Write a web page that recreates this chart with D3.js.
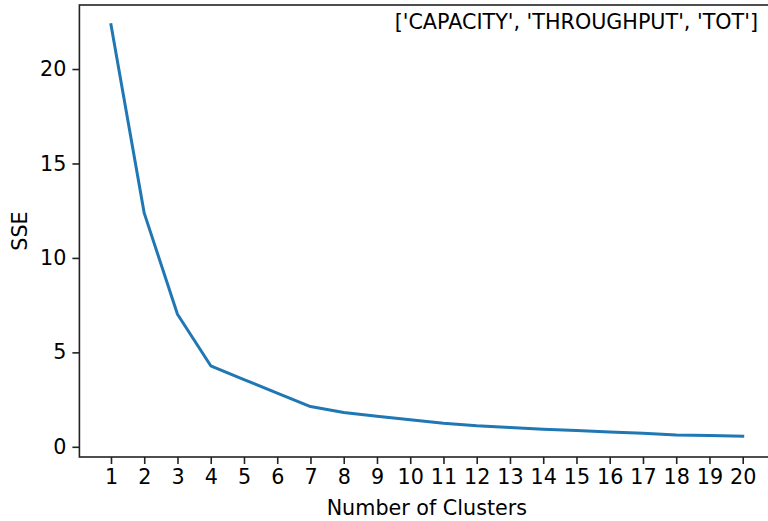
<!DOCTYPE html>
<html>
  <head>
    <meta http-equiv="Content-Type" content="text/html;charset=utf-8"/>
    <script src="https://d3js.org/d3.v7.min.js"></script>
    <style>
      body { margin: 0; background: #fff; }
      text { font-family: "DejaVu Sans", sans-serif; fill: #000; }
    </style>
  </head>
  <body>
    <script type="text/javascript">

// values
var clusters = d3.range(1, 21);
var sse = [22.35, 12.37, 7.02, 4.29, 3.56, 2.84, 2.13, 1.82, 1.62, 1.43,
           1.25, 1.11, 1.02, 0.93, 0.86, 0.78, 0.72, 0.63, 0.60, 0.56];
var yTicks = [0, 5, 10, 15, 20];
var note = "['CAPACITY', 'THROUGHPUT', 'TOT']";

var w = 768, h = 521, fs = "20.7px";
var pl = 79.4, pr = 774.3, pt = 5, pb = 457;

var svg = d3.select("body").append("svg")
  .attr("width", w)
  .attr("height", h);

var x = d3.scaleLinear().domain([0.05, 20.95]).range([pl, pr]);
var y = d3.scaleLinear().domain([-0.54, 23.39]).range([pb, pt]);

var xAxis = d3.axisBottom(x).tickValues(clusters).tickSize(7).tickPadding(5)
  .tickFormat(d3.format("d"));
var yAxis = d3.axisLeft(y).tickValues(yTicks).tickSize(7).tickPadding(6)
  .tickFormat(d3.format("d"));

var gx = svg.append("g").attr("transform", "translate(0," + pb + ")").call(xAxis);
var gy = svg.append("g").attr("transform", "translate(" + pl + ",0)").call(yAxis);

[gx, gy].forEach(function(g) {
  g.select(".domain").remove();
  g.selectAll(".tick line").attr("stroke", "#222").attr("stroke-width", 1.6);
  g.selectAll(".tick text").style("font-size", fs).attr("fill", "#000");
});

// spines
svg.append("rect")
  .attr("x", pl).attr("y", pt)
  .attr("width", pr - pl).attr("height", pb - pt)
  .attr("fill", "none").attr("stroke", "#222").attr("stroke-width", 1.6);

var line = d3.line()
  .x(function(d, i) { return x(clusters[i]); })
  .y(function(d) { return y(d); });

svg.append("path")
  .datum(sse)
  .attr("d", line)
  .attr("fill", "none")
  .attr("stroke", "#1f77b4")
  .attr("stroke-width", 3)
  .attr("stroke-linejoin", "round")
  .attr("stroke-linecap", "square");

svg.append("text")
  .attr("x", 758).attr("y", 28.5)
  .attr("text-anchor", "end")
  .style("font-size", fs)
  .text(note);

svg.append("text")
  .attr("x", (pl + pr) / 2).attr("y", 515)
  .attr("text-anchor", "middle")
  .style("font-size", fs)
  .text("Number of Clusters");

svg.append("text")
  .attr("transform", "translate(27," + (pt + pb) / 2 + ")rotate(-90)")
  .attr("text-anchor", "middle")
  .style("font-size", fs)
  .text("SSE");
    </script>
  </body>
</html>
